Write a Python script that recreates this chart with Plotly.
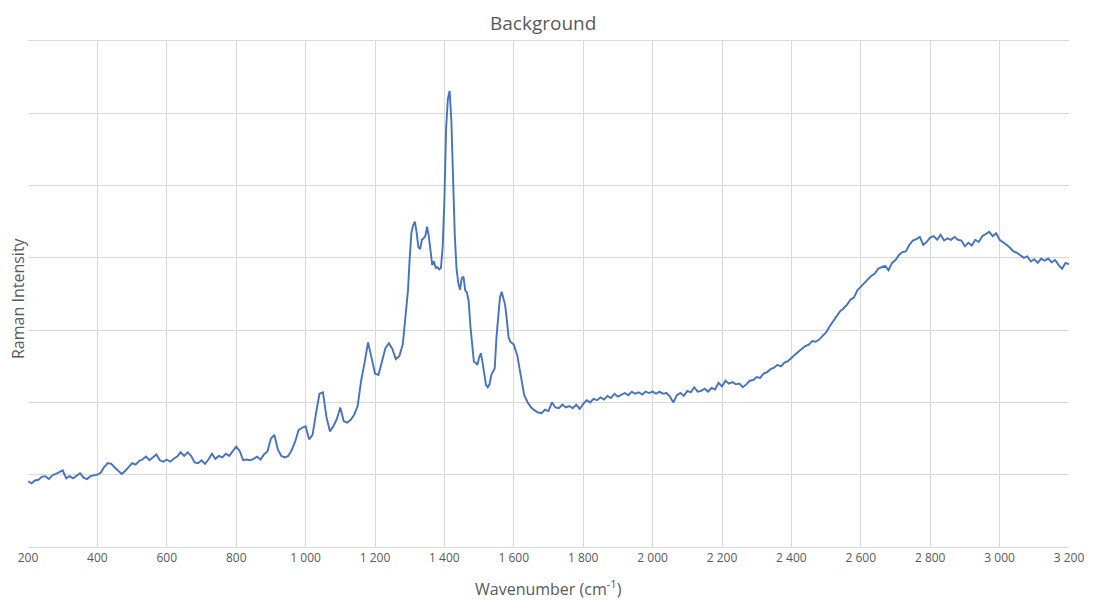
import plotly.graph_objects as go

# Wavenumber sampling (cm^-1): 10-step, with 5-step through the main band region
wavenumber = (list(range(200, 1290, 10)) + list(range(1290, 1600, 5))
              + list(range(1600, 3201, 10)))

intensity_low = [
    0.91, 0.88, 0.92, 0.93, 0.97, 0.98, 0.94, 0.99, 1.01, 1.03,   # 200-290
    1.06, 0.95, 0.98, 0.95, 0.99, 1.02, 0.96, 0.94, 0.98, 0.99,   # 300-390
    1.00, 1.03, 1.11, 1.16, 1.15, 1.10, 1.05, 1.01, 1.05, 1.11,   # 400-490
    1.16, 1.14, 1.19, 1.21, 1.25, 1.20, 1.24, 1.28, 1.20, 1.18,   # 500-590
    1.21, 1.18, 1.22, 1.25, 1.31, 1.26, 1.31, 1.26, 1.17, 1.16,   # 600-690
    1.20, 1.15, 1.21, 1.29, 1.22, 1.26, 1.24, 1.29, 1.26, 1.32,   # 700-790
    1.39, 1.33, 1.20, 1.21, 1.20, 1.22, 1.25, 1.21, 1.28, 1.32,   # 800-890
    1.50, 1.55, 1.35, 1.26, 1.24, 1.26, 1.34, 1.46, 1.62, 1.65,   # 900-990
    1.67, 1.49, 1.55, 1.85, 2.12, 2.14, 1.80, 1.60, 1.67, 1.77,   # 1000-1090
    1.93, 1.74, 1.72, 1.76, 1.83, 1.95, 2.30, 2.55, 2.83, 2.62,   # 1100-1190
    2.40, 2.38, 2.55, 2.75, 2.82, 2.74, 2.60, 2.64, 2.80,         # 1200-1280
]

intensity_band = [
    3.25, 3.55, 4.00, 4.35, 4.45, 4.50, 4.35, 4.15, 4.12, 4.25,   # 1290-1335
    4.27, 4.30, 4.43, 4.30, 4.10, 3.90, 3.95, 3.86, 3.87, 3.84,   # 1340-1385
    3.86, 4.15, 4.80, 5.80, 6.20, 6.31, 5.91, 4.99, 4.30, 3.85,   # 1390-1435
    3.65, 3.56, 3.72, 3.74, 3.55, 3.52, 3.40, 3.05, 2.75, 2.56,   # 1440-1485
    2.55, 2.52, 2.62, 2.68, 2.55, 2.40, 2.24, 2.21, 2.25, 2.38,   # 1490-1535
    2.42, 2.47, 2.90, 3.24, 3.45, 3.53, 3.45, 3.35, 3.14, 2.90,   # 1540-1585
    2.84, 2.82,                                                   # 1590-1595
]

intensity_high = [
    2.80, 2.65, 2.35, 2.10, 2.00, 1.93, 1.89, 1.86, 1.85, 1.90,   # 1600-1690
    1.88, 2.00, 1.93, 1.92, 1.97, 1.93, 1.95, 1.92, 1.97, 1.91,   # 1700-1790
    1.98, 2.03, 2.00, 2.05, 2.03, 2.07, 2.04, 2.09, 2.06, 2.12,   # 1800-1890
    2.08, 2.11, 2.13, 2.10, 2.15, 2.12, 2.14, 2.11, 2.15, 2.13,   # 1900-1990
    2.15, 2.12, 2.15, 2.12, 2.13, 2.08, 2.00, 2.10, 2.13, 2.09,   # 2000-2090
    2.16, 2.14, 2.21, 2.15, 2.16, 2.19, 2.15, 2.20, 2.18, 2.27,   # 2100-2190
    2.22, 2.30, 2.26, 2.28, 2.25, 2.26, 2.21, 2.25, 2.30, 2.31,   # 2200-2290
    2.35, 2.34, 2.40, 2.42, 2.46, 2.48, 2.52, 2.50, 2.55, 2.57,   # 2300-2390
    2.62, 2.66, 2.70, 2.74, 2.78, 2.80, 2.85, 2.84, 2.87, 2.92,   # 2400-2490
    2.97, 3.05, 3.12, 3.20, 3.26, 3.30, 3.35, 3.42, 3.45, 3.55,   # 2500-2590
    3.60, 3.66, 3.70, 3.75, 3.78, 3.85, 3.87, 3.89, 3.83, 3.93,   # 2600-2690
    3.97, 4.04, 4.08, 4.09, 4.18, 4.24, 4.26, 4.29, 4.18, 4.22,   # 2700-2790
    4.28, 4.30, 4.25, 4.32, 4.24, 4.27, 4.25, 4.29, 4.25, 4.24,   # 2800-2890
    4.16, 4.21, 4.17, 4.25, 4.22, 4.30, 4.33, 4.36, 4.30, 4.34,   # 2900-2990
    4.25, 4.22, 4.18, 4.14, 4.09, 4.07, 4.04, 4.00, 4.02, 3.95,   # 3000-3090
    3.98, 3.93, 3.99, 3.96, 3.99, 3.94, 3.97, 3.90, 3.85, 3.93,   # 3100-3190
    3.91,                                                         # 3200
]

intensity = intensity_low + intensity_band + intensity_high

x_ticks = list(range(200, 3201, 200))

grid_col = "#d9d9d9"
text_col = "#595959"
font_family = "Open Sans, Liberation Sans, sans-serif"

fig = go.Figure()
fig.add_trace(go.Scatter(
    x=wavenumber, y=intensity, mode="lines",
    line=dict(color="#4472C4", width=1.9),
    hoverinfo="x+y", showlegend=False,
))

# The page body adds an 8 px offset, so the figure is sized to fit the window.
fig.update_layout(
    width=1085, height=593,
    paper_bgcolor="white", plot_bgcolor="white",
    margin=dict(l=20, r=24, t=33, b=54, autoexpand=False),
    separators=". ",
    font=dict(family=font_family, color=text_col),
    xaxis=dict(
        range=[200, 3200], tickvals=x_ticks, tickformat=",d",
        showgrid=True, gridcolor=grid_col, gridwidth=1,
        showline=True, linecolor=grid_col, linewidth=1, mirror=True,
        ticks="", zeroline=False, automargin=False,
        tickfont=dict(family=font_family, size=12, color=text_col),
    ),
    yaxis=dict(
        range=[0, 7], dtick=1, showticklabels=False,
        showgrid=True, gridcolor=grid_col, gridwidth=1,
        zeroline=False, ticks="", showline=False, automargin=False,
    ),
    annotations=[
        dict(text="Background", xref="paper", yref="paper", x=0.495, y=1,
             yshift=33, xanchor="center", yanchor="top", showarrow=False,
             font=dict(family=font_family, size=19, color=text_col)),
        dict(text="Wavenumber (cm<sup>-1</sup>)", xref="paper", yref="paper",
             x=0.5, y=0, yshift=-41, xanchor="center", yanchor="middle",
             showarrow=False,
             font=dict(family=font_family, size=16, color=text_col)),
        dict(text="Raman Intensity", xref="paper", yref="paper",
             x=0, y=0.5, xshift=-10, yshift=-4, textangle=-90, xanchor="center",
             yanchor="middle", showarrow=False,
             font=dict(family=font_family, size=16, color=text_col)),
    ],
)

fig.write_html("out.html")
